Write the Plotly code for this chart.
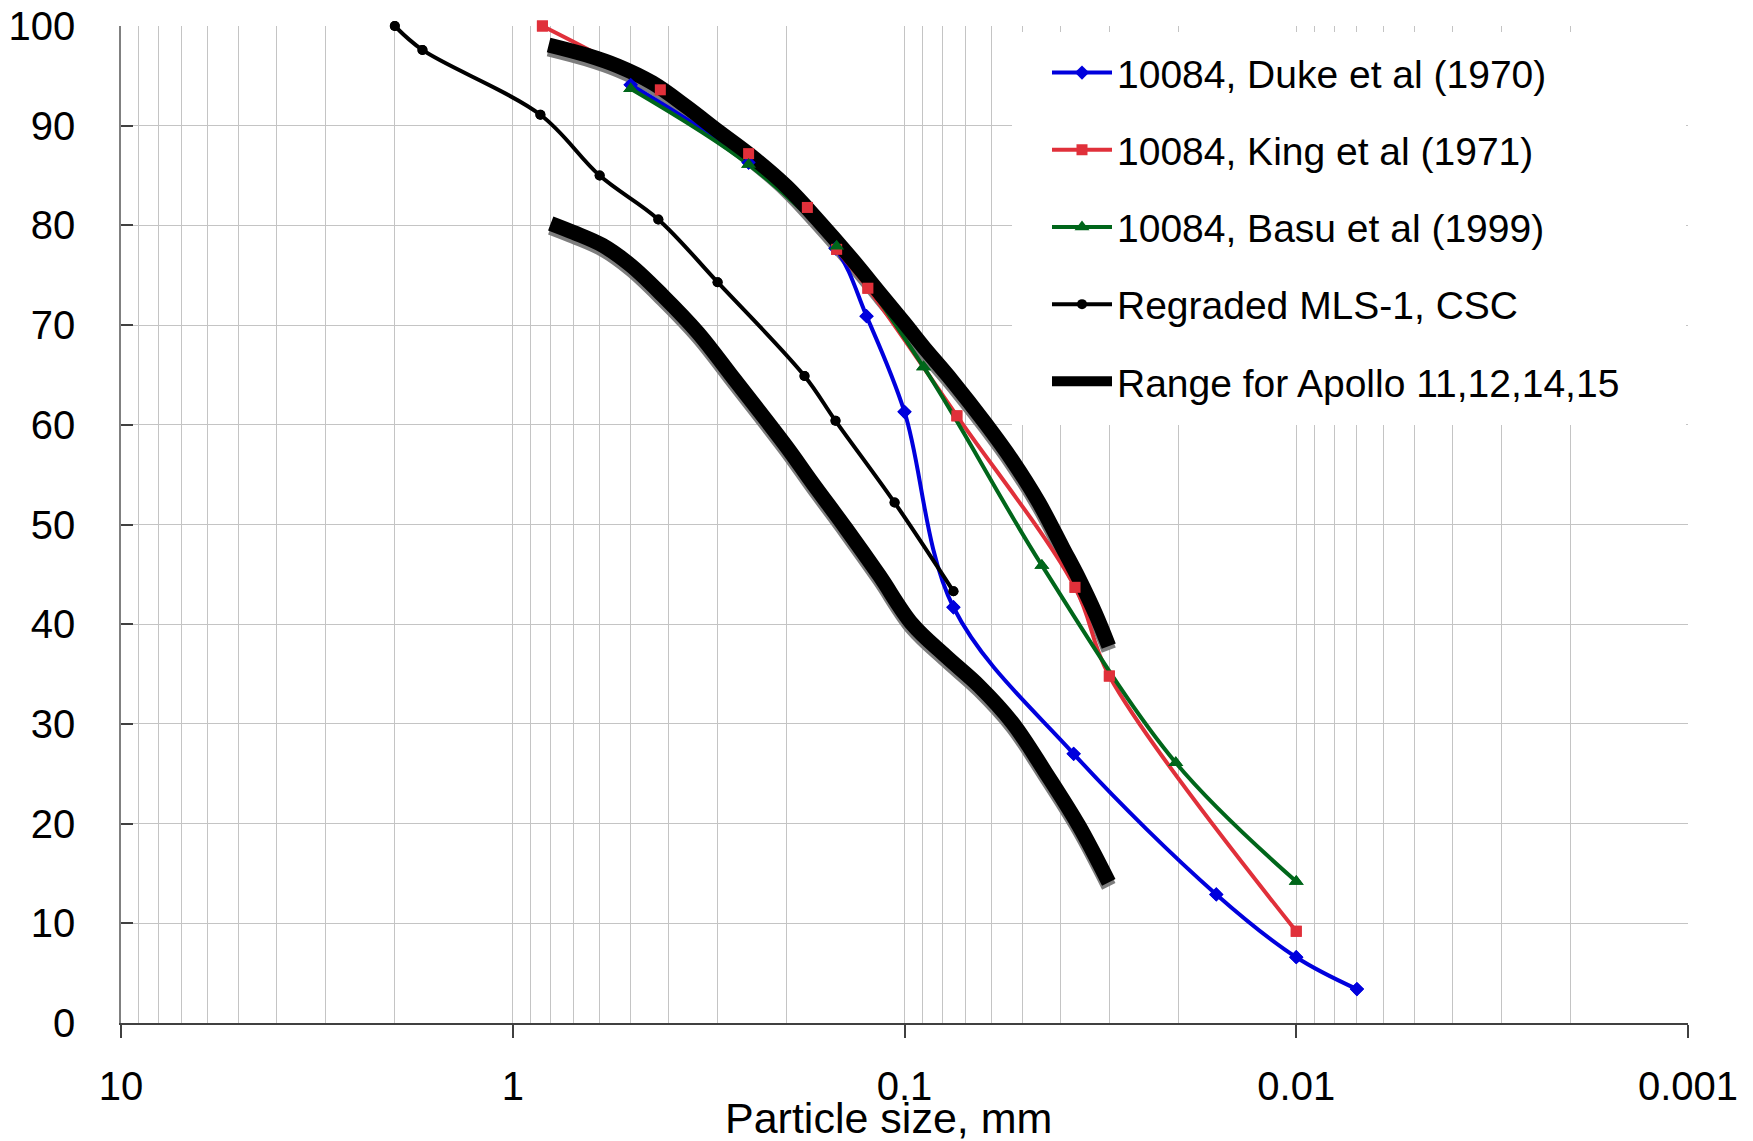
import plotly.graph_objects as go

# ---------------- data (particle size in mm, percent finer) ----------------
duke_d = [0.5, 0.25, 0.15, 0.125, 0.1, 0.075, 0.037, 0.016, 0.01, 0.007]
duke_p = [94.1, 86.3, 77.7, 70.9, 61.3, 41.7, 27.0, 12.9, 6.6, 3.4]

king_d = [0.84, 0.42, 0.25, 0.177, 0.149, 0.124, 0.0735, 0.0367, 0.03, 0.01]
king_p = [100.0, 93.6, 87.2, 81.8, 77.6, 73.7, 60.9, 43.7, 34.8, 9.2]

basu_d = [0.5, 0.25, 0.149, 0.0894, 0.0446, 0.0203, 0.01]
basu_p = [93.7, 86.1, 77.9, 65.8, 45.9, 26.1, 14.2]

mls_d = [2.0, 1.7, 0.85, 0.6, 0.425, 0.3, 0.18, 0.15, 0.106, 0.075]
mls_p = [100.0, 97.6, 91.1, 85.0, 80.6, 74.3, 64.9, 60.4, 52.2, 43.3]

range_hi_d = [0.81, 0.65, 0.54, 0.44, 0.36, 0.30, 0.245, 0.20, 0.166, 0.136,
              0.115, 0.10, 0.0894, 0.0755, 0.062, 0.053, 0.0454, 0.0395,
              0.0359, 0.0325, 0.0301]
range_hi_p = [98.1, 97.1, 96.0, 94.3, 91.9, 89.5, 86.9, 83.9, 80.5, 76.6,
              73.1, 70.2, 67.8, 64.4, 60.1, 56.4, 52.2, 47.7, 44.6, 41.0, 37.8]

range_lo_d = [0.80, 0.70, 0.59, 0.50, 0.415, 0.336, 0.271, 0.2, 0.172,
              0.141, 0.116, 0.0955, 0.0785, 0.0645, 0.053, 0.0436, 0.0359,
              0.0301]
range_lo_p = [80.2, 79.3, 78.0, 76.0, 73.0, 69.2, 64.5, 57.8, 54.2,
              49.6, 44.9, 40.0, 36.8, 33.8, 30.1, 25.1, 19.8, 14.1]

x_tickvals = [10, 1, 0.1, 0.01, 0.001]
x_ticktext = ["10", "1", "0.1", "0.01", "0.001"]
y_tickvals = list(range(0, 101, 10))

names = ["10084, Duke et al (1970)", "10084, King et al (1971)",
         "10084, Basu et al (1999)", "Regraded MLS-1, CSC",
         "Range for Apollo 11,12,14,15"]
x_title = "Particle size, mm"

# ---------------- style ----------------
FONT = "Liberation Sans, Arial, sans-serif"
BLUE = "#0000dd"
RED = "#e0303a"
GREEN = "#00661a"
BLACK = "#000000"
GRID = "#c4c4c4"

PAGE_OFF = 8                  # default body margin of the html page
W_FIG, H_FIG = 1753 - PAGE_OFF, 1141 - PAGE_OFF
ML, MT = 121 - PAGE_OFF, 26 - PAGE_OFF
PW, PH = 1569, 1001          # paper plot area
PLOT_W, PLOT_H = 1567, 997    # visible axes area
SHADOW_DY = 4

xdom = [0, PLOT_W / PW]
ydom = [SHADOW_DY / PH, 1]
ydom_shadow = [0, PLOT_H / PH]

fig = go.Figure()

series = [
    (duke_d, duke_p, BLUE, "diamond", 11, names[0]),
    (king_d, king_p, RED, "square", 11, names[1]),
    (basu_d, basu_p, GREEN, "triangle-up", 13, names[2]),
    (mls_d, mls_p, BLACK, "circle", 10, names[3]),
]

# invisible carrier trace so the visible (grid) subplot is drawn
fig.add_trace(go.Scatter(x=mls_d, y=mls_p, mode="lines", xaxis="x", yaxis="y",
                         line=dict(width=0), opacity=0, showlegend=False,
                         hoverinfo="skip"))

# shadows of the thick range curves (offset subplot, drawn below data)
for d, p in [(range_hi_d, range_hi_p), (range_lo_d, range_lo_p)]:
    fig.add_trace(go.Scatter(x=d, y=p, mode="lines", xaxis="x2", yaxis="y2",
                             line=dict(color="#7d7d7d", width=15, shape="spline"),
                             showlegend=False, hoverinfo="skip"))

# thin series lines (with legend entries)
for i, (d, p, c, sym, ms, nm) in enumerate(series):
    fig.add_trace(go.Scatter(x=d, y=p, mode="lines+markers", name=nm,
                             xaxis="x3", yaxis="y3", legendgroup=f"g{i}",
                             line=dict(color=c, width=4, shape="spline", smoothing=1),
                             marker=dict(color=c, symbol=sym, size=ms, line=dict(width=0)),
                             cliponaxis=False))

# thick range curves
fig.add_trace(go.Scatter(x=range_hi_d, y=range_hi_p, mode="lines", name=names[4],
                         xaxis="x3", yaxis="y3", legendgroup="g4",
                         line=dict(color=BLACK, width=15, shape="spline")))
fig.add_trace(go.Scatter(x=range_lo_d, y=range_lo_p, mode="lines", name=names[4],
                         xaxis="x3", yaxis="y3", legendgroup="g4", showlegend=False,
                         line=dict(color=BLACK, width=15, shape="spline")))

# markers on top of everything (as in the original)
for i, (d, p, c, sym, ms, nm) in enumerate(series):
    fig.add_trace(go.Scatter(x=d, y=p, mode="markers", xaxis="x3", yaxis="y3",
                             legendgroup=f"g{i}", showlegend=False,
                             marker=dict(color=c, symbol=sym, size=ms, line=dict(width=0)),
                             cliponaxis=False, hoverinfo="skip"))

hidden_x = dict(type="log", range=[1, -3], visible=False)
hidden_y = dict(range=[0, 100], visible=False)

TOP = MT + PAGE_OFF           # screen y of paper top
BOT = TOP + PH                # screen y of paper bottom

fig.update_layout(
    width=W_FIG, height=H_FIG,
    margin=dict(l=ML, r=W_FIG - ML - PW, t=MT, b=H_FIG - MT - PH, pad=0),
    paper_bgcolor="white", plot_bgcolor="rgba(0,0,0,0)",
    font=dict(family=FONT, color="black", size=40),
    showlegend=True,
    xaxis=dict(type="log", range=[1, -3], domain=xdom, anchor="y",
               tickmode="array", tickvals=x_tickvals, ticktext=x_ticktext,
               ticks="outside", ticklen=13, tickwidth=1.5, tickcolor="#404040",
               showline=True, linecolor="#404040", linewidth=1.5,
               showgrid=True, gridcolor=GRID, gridwidth=1.3,
               minor=dict(dtick="D1", showgrid=True, gridcolor=GRID, gridwidth=1.3, ticks=""),
               tickfont=dict(size=40), ticklabelstandoff=14,
               ticklabeloverflow="allow", automargin=False),
    yaxis=dict(range=[0, 100], domain=ydom, anchor="x",
               tickmode="array", tickvals=y_tickvals,
               ticks="inside", ticklen=12, tickwidth=1.5, tickcolor="#404040",
               showline=True, linecolor="#808080", linewidth=1.5,
               showgrid=True, gridcolor=GRID, gridwidth=1.3, zeroline=False,
               tickfont=dict(size=40), ticklabelstandoff=36,
               ticklabeloverflow="allow", automargin=False),
    xaxis2=dict(hidden_x, domain=xdom, anchor="y2"),
    yaxis2=dict(hidden_y, domain=ydom_shadow, anchor="x2"),
    xaxis3=dict(hidden_x, domain=xdom, anchor="y3"),
    yaxis3=dict(hidden_y, domain=ydom, anchor="x3"),
    legend=dict(x=(1022 - 121) / PW, xanchor="left", y=1 - 14.7 / PH, yanchor="top",
                bgcolor="rgba(0,0,0,0)", borderwidth=0, font=dict(size=39),
                itemwidth=60, indentation=25, tracegroupgap=23.5,
                traceorder="grouped"),
    # white panel behind the legend (covers the grid there, as in the original)
    shapes=[dict(type="rect", xref="paper", yref="paper", layer="above",
                 x0=(1012 - 121) / PW, x1=(1686 - 121) / PW,
                 y0=(BOT - 425) / PH, y1=(BOT - 32) / PH,
                 fillcolor="white", line=dict(width=0))],
    annotations=[dict(text=x_title, xref="paper", yref="paper",
                      x=(888 - 121) / PW, y=0, xanchor="center", yanchor="top",
                      yshift=-65, showarrow=False, font=dict(size=43))],
)

fig.write_html("out.html")
